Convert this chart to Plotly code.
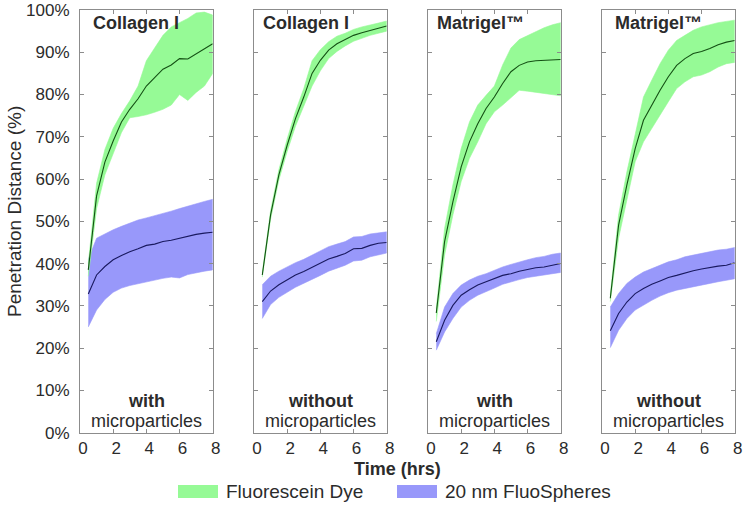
import plotly.graph_objects as go

# ---------------- data ----------------
time_hrs = [0.5, 1.0, 1.5, 2.0, 2.5, 3.0, 3.5, 4.0, 4.5, 5.0, 5.5, 6.0, 6.5, 7.0, 7.5, 8.0]

panel_titles = ["Collagen I", "Collagen I", "Matrigel™", "Matrigel™"]
panel_conditions = ["with", "without", "with", "without"]
condition_suffix = "microparticles"
series_names = ["Fluorescein Dye", "20 nm FluoSpheres"]
y_tick_values = [0, 10, 20, 30, 40, 50, 60, 70, 80, 90, 100]
y_tick_labels = ["0%", "10%", "20%", "30%", "40%", "50%", "60%", "70%", "80%", "90%", "100%"]
x_tick_values = [0, 2, 4, 6, 8]

# Panel 1: Collagen I, with microparticles
dye_mean_1 = [38.5, 56, 64, 69, 73.5, 76.5, 79, 82, 84, 86, 87, 88.5, 88.4, 89.6, 90.7, 92]
dye_hi_1 = [40, 59, 67, 72, 75.5, 78.5, 82, 88, 91, 94, 96, 97, 98, 99.3, 99.5, 98.8]
dye_lo_1 = [37, 53, 61, 66, 71, 74.5, 74.8, 75.2, 75.8, 76.5, 77.5, 80, 78.6, 80.5, 82, 85]
sph_mean_1 = [32.8, 37.3, 39.3, 40.9, 41.9, 42.8, 43.5, 44.3, 44.6, 45.2, 45.5, 46, 46.5, 46.9, 47.2, 47.4]
sph_hi_1 = [41, 46, 47, 48, 48.8, 49.6, 50.3, 50.8, 51.3, 51.8, 52.4, 53, 53.6, 54.2, 54.7, 55.2]
sph_lo_1 = [25, 29, 31.5, 33.2, 34.2, 34.8, 35.3, 35.7, 36.1, 36.5, 36.8, 36.6, 37.4, 37.8, 38.2, 38.5]

# Panel 2: Collagen I, without microparticles
dye_mean_2 = [37.3, 51.5, 61, 68, 74.3, 79.4, 85, 88.1, 90.5, 92, 93, 94, 94.6, 95.2, 95.7, 96.2]
dye_hi_2 = [37.8, 52.5, 62.2, 69.5, 76, 81.4, 88, 90.6, 92.5, 93.8, 94.5, 95.4, 96, 96.4, 96.9, 97.4]
dye_lo_2 = [36.8, 50.5, 59.8, 66.5, 72.5, 77.4, 82, 85.6, 88.5, 90.2, 91.5, 92.6, 93.3, 94, 94.5, 95]
sph_mean_2 = [31, 33.5, 35, 36.1, 37.3, 38.1, 39.1, 40.1, 41.1, 41.7, 42.4, 43.5, 43.6, 44.3, 44.8, 45]
sph_hi_2 = [35, 37, 38.2, 39.2, 40.2, 41, 42, 43, 44, 44.6, 45.2, 46.3, 46.4, 47, 47.3, 47.5]
sph_lo_2 = [27, 30.3, 32, 33.2, 34.4, 35.3, 36.3, 37.2, 38.2, 38.9, 39.6, 40.6, 40.8, 41.6, 42.1, 42.5]

# Panel 3: Matrigel, with microparticles
dye_mean_3 = [28.3, 45.2, 54.6, 62.9, 68.8, 73.1, 76.7, 79.4, 82.6, 85.4, 86.9, 87.7, 88, 88.1, 88.3, 88.3]
dye_hi_3 = [29.4, 48.3, 58.6, 67.2, 73.5, 77.5, 79.8, 82, 87, 91, 93, 94, 95, 95.8, 96.5, 97]
dye_lo_3 = [26.3, 42, 51.5, 59.4, 64.9, 68.8, 73.1, 75.9, 77.5, 79.2, 81, 80.8, 80.6, 80.2, 80, 79.7]
sph_mean_3 = [21.5, 26.6, 30.1, 32.5, 33.8, 34.9, 35.7, 36.4, 37.2, 37.6, 38.2, 38.6, 39, 39.2, 39.6, 40]
sph_hi_3 = [23.4, 29.7, 32.9, 34.9, 36.1, 37, 37.6, 38.4, 39.2, 39.8, 40.4, 40.9, 41.4, 41.7, 42.2, 42.5]
sph_lo_3 = [19.5, 23.8, 27, 29.7, 31.3, 32.5, 33.3, 34.2, 35.1, 35.7, 36.2, 36.7, 37, 37.2, 37.6, 37.9]

# Panel 4: Matrigel, without microparticles
dye_mean_4 = [31.8, 49.1, 58.6, 67.2, 73.9, 77.5, 81, 84.2, 86.9, 88.5, 89.7, 90.2, 90.9, 91.8, 92.4, 92.8]
dye_hi_4 = [32.6, 51.5, 61.7, 70.4, 79.4, 83.4, 87.3, 90.5, 92.8, 94, 95.2, 96, 96.5, 97, 97.3, 97.6]
dye_lo_4 = [31, 46, 55.4, 64.1, 68.8, 72, 75.1, 78.3, 81.4, 83, 84.2, 84.6, 85.4, 86.5, 87.3, 87.6]
sph_mean_4 = [24.1, 28.2, 30.9, 32.9, 34.1, 35.1, 35.9, 36.7, 37.2, 37.8, 38.3, 38.7, 39.1, 39.4, 39.6, 40.2]
sph_hi_4 = [29.7, 32.9, 35.3, 36.8, 38, 38.8, 39.6, 40.4, 40.9, 41.6, 42, 42.4, 42.8, 43.2, 43.4, 43.8]
sph_lo_4 = [20.1, 24.2, 27, 29, 30.1, 31.3, 32.3, 33.1, 33.7, 34.1, 34.5, 34.9, 35.3, 35.7, 36.1, 36.4]

panels = [
    (dye_mean_1, dye_hi_1, dye_lo_1, sph_mean_1, sph_hi_1, sph_lo_1),
    (dye_mean_2, dye_hi_2, dye_lo_2, sph_mean_2, sph_hi_2, sph_lo_2),
    (dye_mean_3, dye_hi_3, dye_lo_3, sph_mean_3, sph_hi_3, sph_lo_3),
    (dye_mean_4, dye_hi_4, dye_lo_4, sph_mean_4, sph_hi_4, sph_lo_4),
]

# ---------------- style ----------------
W, H = 750, 522
FONT = "Liberation Sans, Arial, Helvetica, sans-serif"
TXT = "#2b2b2b"
AX = "#8c8c8c"
GREEN_FILL = "rgb(150,250,150)"
BLUE_FILL = "rgb(152,152,250)"
GREEN_LINE = "rgb(20,80,20)"
BLUE_LINE = "rgb(25,25,95)"

panel_left_px = [80, 254, 428, 602]
panel_w_px = 132.7
top_px, bottom_px = 10, 432.6
title_offset_px = [10.5, 6.5, 7, 11]


def px(x):
    return x / W


def py(y):
    return (H - y) / H


fig = go.Figure()
layout = dict(
    width=W, height=H,
    margin=dict(l=0, r=0, t=0, b=0, pad=0),
    paper_bgcolor="white", plot_bgcolor="white",
    showlegend=False,
    font=dict(family=FONT, color=TXT, size=17),
)
annotations = []
shapes = []

for i, (dm, dh, dl, sm, sh, sl) in enumerate(panels):
    n = i + 1
    xa = "x" if n == 1 else f"x{n}"
    ya = "y" if n == 1 else f"y{n}"
    band_x = time_hrs + time_hrs[::-1]
    fig.add_trace(go.Scatter(x=band_x, y=sh + sl[::-1], fill="toself", fillcolor=BLUE_FILL,
                             line=dict(width=0.6, color=BLUE_FILL), mode="lines",
                             xaxis=xa, yaxis=ya, hoverinfo="skip", name=series_names[1]))
    fig.add_trace(go.Scatter(x=band_x, y=dh + dl[::-1], fill="toself", fillcolor=GREEN_FILL,
                             line=dict(width=0.6, color=GREEN_FILL), mode="lines",
                             xaxis=xa, yaxis=ya, hoverinfo="skip", name=series_names[0]))
    fig.add_trace(go.Scatter(x=time_hrs, y=sm, mode="lines", line=dict(color=BLUE_LINE, width=1.1),
                             xaxis=xa, yaxis=ya))
    fig.add_trace(go.Scatter(x=time_hrs, y=dm, mode="lines", line=dict(color=GREEN_LINE, width=1.1),
                             xaxis=xa, yaxis=ya))

    x0 = px(panel_left_px[i])
    x1 = px(panel_left_px[i] + panel_w_px)
    xkey = "xaxis" if n == 1 else f"xaxis{n}"
    ykey = "yaxis" if n == 1 else f"yaxis{n}"
    layout[xkey] = dict(
        domain=[x0, x1], anchor=ya, range=[0, 8], tickvals=x_tick_values,
        ticks="inside", ticklen=4, tickcolor=AX, mirror="ticks", showline=True,
        linecolor=AX, linewidth=1, showgrid=False, zeroline=False, automargin=False,
        tickfont=dict(size=17, color=TXT), ticklabelshift=3,
    )
    layout[ykey] = dict(
        domain=[py(bottom_px), py(top_px)], anchor=xa, range=[0, 100],
        tickvals=y_tick_values, ticktext=y_tick_labels,
        ticks="inside", ticklen=4, tickcolor=AX, mirror="ticks", showline=True,
        linecolor=AX, linewidth=1, showgrid=False, zeroline=False, automargin=False,
        showticklabels=(n == 1), tickfont=dict(size=17, color=TXT), ticklabelstandoff=6,
    )
    # panel title
    annotations.append(dict(
        x=px(panel_left_px[i] + title_offset_px[i]), y=py(23), xref="paper", yref="paper",
        xanchor="left", yanchor="middle", showarrow=False,
        text=f"<b>{panel_titles[i]}</b>", font=dict(size=18, color=TXT, family=FONT)))
    cx = px(panel_left_px[i] + panel_w_px / 2)
    annotations.append(dict(
        x=cx, y=py(401), xref="paper", yref="paper", xanchor="center", yanchor="middle",
        showarrow=False, text=f"<b>{panel_conditions[i]}</b>",
        font=dict(size=18, color=TXT, family=FONT)))
    annotations.append(dict(
        x=cx, y=py(421), xref="paper", yref="paper", xanchor="center", yanchor="middle",
        showarrow=False, text=condition_suffix,
        font=dict(size=18, color=TXT, family=FONT)))

# axis titles
annotations.append(dict(x=px(398), y=py(469), xref="paper", yref="paper", xanchor="center",
                        yanchor="middle", showarrow=False, text="<b>Time (hrs)</b>",
                        font=dict(size=18, color=TXT, family=FONT)))
annotations.append(dict(x=px(14), y=py(212), xref="paper", yref="paper", xanchor="center",
                        yanchor="middle", showarrow=False, text="Penetration Distance (%)",
                        textangle=-90, font=dict(size=19, color=TXT, family=FONT)))

# legend (custom)
for (sx, tx, color, name) in [(178, 224, GREEN_FILL, series_names[0]),
                              (397, 443, BLUE_FILL, series_names[1])]:
    shapes.append(dict(type="rect", xref="paper", yref="paper",
                       x0=px(sx), x1=px(sx + 40), y0=py(498), y1=py(485),
                       fillcolor=color, line=dict(width=0)))
    annotations.append(dict(x=px(tx), y=py(491.5), xref="paper", yref="paper", xanchor="left",
                            yanchor="middle", showarrow=False, text=name,
                            font=dict(size=19, color=TXT, family=FONT)))

layout["annotations"] = annotations
layout["shapes"] = shapes
fig.update_layout(**layout)
fig.write_html("out.html",
               config={"displayModeBar": False, "staticPlot": True},
               post_script="document.body.style.margin='0';document.body.style.overflow='hidden';")
